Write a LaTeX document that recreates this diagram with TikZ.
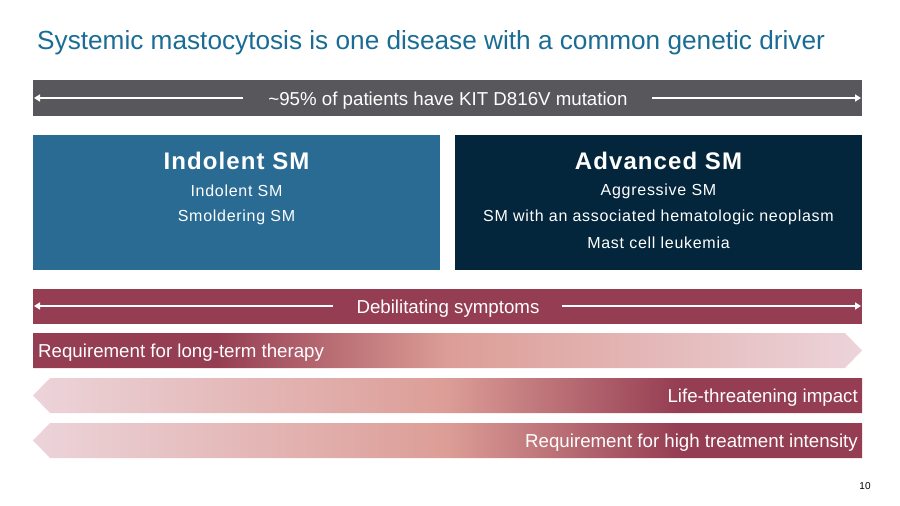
\documentclass[tikz,border=0pt]{standalone}
\usepackage{fontspec}
\setmainfont{Liberation Sans}
\newfontfamily\spacedfont[LetterSpace=4.5]{Liberation Sans}
\usetikzlibrary{arrows.meta}
\definecolor{titleblue}{RGB}{26,108,148}
\definecolor{barGray}{RGB}{88,87,92}
\definecolor{indBlue}{RGB}{42,107,148}
\definecolor{advNavy}{RGB}{4,38,60}
\definecolor{mar}{RGB}{149,61,82}
\definecolor{salm}{RGB}{220,157,150}
\definecolor{pale}{RGB}{236,212,218}
\pgfdeclarehorizontalshading{rowR}{100bp}{color(0bp)=(mar); color(25bp)=(mar); color(36bp)=(mar); color(50bp)=(salm); color(75bp)=(pale); color(100bp)=(pale)}
\pgfdeclarehorizontalshading{rowL}{100bp}{color(0bp)=(pale); color(25bp)=(pale); color(50bp)=(salm); color(64bp)=(mar); color(75bp)=(mar); color(100bp)=(mar)}
\tikzset{
  wtxt/.style={text=white, inner sep=0pt},
  bararrow/.style={draw=white, line width=1.8pt, -{Triangle[width=7pt,length=6pt]}},
  boxtitle/.style={wtxt, font=\spacedfont\fontsize{24}{26}\selectfont\bfseries},
  boxitem/.style={wtxt, font=\spacedfont\fontsize{16}{18}\selectfont},
  bartxt/.style={wtxt, font=\fontsize{18.7}{20}\selectfont},
}
\begin{document}
\begin{tikzpicture}[x=1pt,y=-1pt]
\useasboundingbox (0,0) rectangle (900,506);
% title
\node[anchor=west, inner sep=0pt, text=titleblue, font=\fontsize{26.2}{30}\selectfont] (title) at (37,43) {Systemic mastocytosis is one disease with a common genetic driver};
% gray bar
\fill[barGray] (33,80) rectangle (862,116);
\node[bartxt] (kit) at (448,101) {\textasciitilde95\% of patients have KIT D816V mutation};
\coordinate (k1) at (243,98); \coordinate (k2) at (34,98);
\coordinate (k3) at (652,98); \coordinate (k4) at (861,98);
\draw[bararrow] (k1) -- (k2);
\draw[bararrow] (k3) -- (k4);
% boxes
\fill[indBlue] (33,135) rectangle (440,270);
\fill[advNavy] (455,135) rectangle (862,270);
\node[boxtitle] (indT) at (236.5,161) {Indolent SM};
\node[boxitem] (ind1) at (236.5,191) {Indolent SM};
\node[boxitem] (ind2) at (236.5,217) {Smoldering SM};
\node[boxtitle] (advT) at (658.5,161) {Advanced SM};
\node[boxitem] (adv1) at (658.5,191) {Aggressive SM};
\node[boxitem] (adv2) at (658.5,217) {SM with an associated hematologic neoplasm};
\node[boxitem] (adv3) at (658.5,243) {Mast cell leukemia};
% debilitating bar
\fill[mar] (33,289) rectangle (862,324);
\node[bartxt] (deb) at (448,309) {Debilitating symptoms};
\coordinate (d1) at (333,306); \coordinate (d2) at (34,306);
\coordinate (d3) at (562,306); \coordinate (d4) at (861,306);
\draw[bararrow] (d1) -- (d2);
\draw[bararrow] (d3) -- (d4);
% row 1
\shade[shading=rowR] (33,333) -- (845,333) -- (862,350.5) -- (845,368) -- (33,368) -- cycle;
\node[bartxt, anchor=west] (r1) at (38,353) {Requirement for long-term therapy};
% row 2
\shade[shading=rowL] (33,395.5) -- (50,378) -- (862,378) -- (862,413) -- (50,413) -- cycle;
\node[bartxt, anchor=east] (r2) at (858,398) {Life-threatening impact};
% row 3
\shade[shading=rowL] (33,440.5) -- (50,423) -- (862,423) -- (862,458) -- (50,458) -- cycle;
\node[bartxt, anchor=east] (r3) at (858,443) {Requirement for high treatment intensity};
% page number
\node[inner sep=0pt, font=\fontsize{10}{12}\selectfont] (pg) at (865,486) {10};
\end{tikzpicture}
\end{document}
